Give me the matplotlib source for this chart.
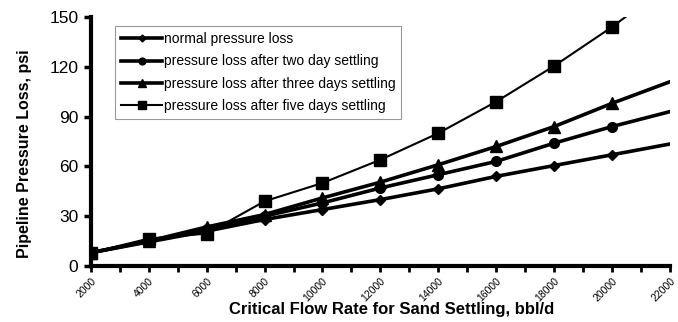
import matplotlib.pyplot as plt
import numpy as np

plt.rcParams['font.family'] = ['Liberation Sans', 'DejaVu Sans']

flow_rate = [2000, 4000, 6000, 8000, 10000, 12000, 14000, 16000, 18000, 20000, 22000]
normal_loss = [8, 14.5, 21, 28, 34, 40, 46.5, 54, 60.5, 67, 73.5]
two_day_loss = [8, 15, 22, 30, 38, 47, 55, 63, 74, 84, 93]
three_day_loss = [8, 15, 23.5, 31, 41, 50.5, 61, 72, 84, 98, 111]
five_day_loss = [8, 16.5, 19.5, 39, 50, 64, 80, 99, 120.5, 144, 170]

labels = ['normal pressure loss',
          'pressure loss after two day settling',
          'pressure loss after three days settling',
          'pressure loss after five days settling']

fig = plt.figure(figsize=(6.78, 3.22), dpi=100)
ax = fig.add_axes([0.134, 0.174, 0.854, 0.773])

# last point (22000) carries no marker, the line just runs to the axis edge
marks = list(range(len(flow_rate) - 1))
ax.plot(flow_rate, normal_loss, color='black', lw=2.6, marker='D', ms=5, markevery=marks, label=labels[0])
ax.plot(flow_rate, two_day_loss, color='black', lw=2.6, marker='o', ms=7, markevery=marks, label=labels[1])
ax.plot(flow_rate, three_day_loss, color='black', lw=2.6, marker='^', ms=8, markevery=marks, label=labels[2])
ax.plot(flow_rate, five_day_loss, color='black', lw=1.5, marker='s', ms=9, markevery=marks, label=labels[3])

ax.set_xlim(2000, 22000)
ax.set_ylim(0, 150)
ax.set_yticks(np.arange(0, 151, 30))
ax.set_xticks(np.arange(2000, 22001, 2000))
ax.set_xticks(np.arange(3000, 22000, 2000), minor=True)
ax.set_xticklabels([str(v) for v in range(2000, 22001, 2000)], rotation=45,
                   ha='right', va='top', rotation_mode='anchor', fontsize=7.5)
ax.tick_params(axis='y', labelsize=12.5, width=2.5, length=5, direction='out', pad=4)
ax.tick_params(axis='x', which='both', width=2, length=4, direction='out', pad=3)

for side in ['top', 'right']:
    ax.spines[side].set_visible(False)
for side in ['left', 'bottom']:
    ax.spines[side].set_linewidth(3)

ax.set_xlabel('Critical Flow Rate for Sand Settling, bbl/d', fontsize=12, fontweight='bold')
ax.set_ylabel('Pipeline Pressure Loss, psi', fontsize=11.5, fontweight='bold')
ax.xaxis.set_label_coords(0.52, -0.145)
ax.yaxis.set_label_coords(-0.102, 0.45)

leg = ax.legend(loc='upper left', bbox_to_anchor=(0.03, 0.99), fontsize=10, frameon=True,
                fancybox=False, edgecolor='gray', handlelength=3.0, handletextpad=0.1,
                borderpad=0.4, labelspacing=0.6, markerscale=0.7)
leg.get_frame().set_linewidth(0.8)

plt.savefig('out.png', dpi=100)
